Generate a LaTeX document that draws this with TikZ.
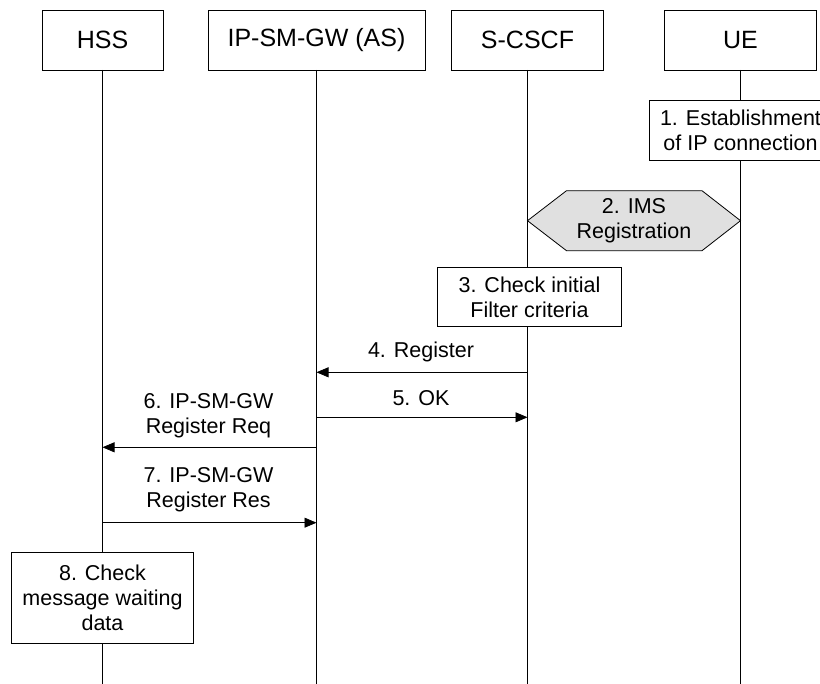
\documentclass[tikz,border=0pt]{standalone}
\usepackage{fontspec}
\setmainfont{Liberation Sans}
\usetikzlibrary{arrows.meta}
\definecolor{hexfill}{RGB}{224,224,224}
\begin{document}
\begin{tikzpicture}[x=1pt,y=-1pt,
  every node/.style={inner sep=0pt, outer sep=0pt},
  hdr/.style={draw, line width=0.8pt, fill=white, minimum height=60pt, font=\fontsize{25}{28}\selectfont},
  actbox/.style={draw, line width=0.8pt, fill=white, align=center, font=\fontsize{21.5}{25}\selectfont},
  lbl/.style={align=center, font=\fontsize{21.5}{25}\selectfont},
  life/.style={line width=0.8pt},
  msg/.style={line width=0.8pt, -{Triangle[length=12pt,width=10pt]}},
]
\useasboundingbox (0,0) rectangle (820,684);

% headers
\node[hdr, minimum width=121pt] (hss)   at (102.5,40) {HSS};
\node[hdr, minimum width=217pt] (ipsm)  at (316.5,40) {IP-SM-GW (AS)};
\node[hdr, minimum width=152pt] (scscf) at (527.5,40) {S-CSCF};
\node[hdr, minimum width=152pt] (ue)    at (740.5,40) {UE};

% lifelines
\coordinate (hssE)   at (hss.south   |- 0,684);
\coordinate (ipsmE)  at (ipsm.south  |- 0,684);
\coordinate (scscfE) at (scscf.south |- 0,684);
\coordinate (ueE)    at (ue.south    |- 0,684);
\draw[life] (hss.south) -- (hssE);
\draw[life] (ipsm.south) -- (ipsmE);
\draw[life] (scscf.south) -- (scscfE);
\draw[life] (ue.south) -- (ueE);

% 1
\node[actbox, minimum width=182pt, minimum height=60.5pt] (est) at (740.5,130.4) {1. Establishment\\of IP connection};

% 2 hexagon
\coordinate (hexL) at (scscf.south |- 0,220.7);
\coordinate (hexR) at (ue.south |- 0,220.7);
\draw[line width=0.8pt, fill=hexfill] (hexL) -- ++(39,-30) -- (702,190.7) -- (hexR) -- (702,250.7) -- (566.5,250.7) -- cycle;
\node[lbl] (reg) at (634,220.7) {2. IMS\\Registration};

% 3
\node[actbox, minimum width=184pt, minimum height=59.5pt] (ifc) at (529.5,297) {3. Check initial\\Filter criteria};

% messages
\coordinate (m4s) at (scscf.south |- 0,372.3);
\coordinate (m4e) at (ipsm.south  |- 0,372.3);
\draw[msg] (m4s) -- (m4e);
\node[lbl] (l4) at (421,352) {4. Register};

\coordinate (m5s) at (ipsm.south  |- 0,417.3);
\coordinate (m5e) at (scscf.south |- 0,417.3);
\draw[msg] (m5s) -- (m5e);
\node[lbl] (l5) at (421,398) {5. OK};

\coordinate (m6s) at (ipsm.south |- 0,447.3);
\coordinate (m6e) at (hss.south  |- 0,447.3);
\draw[msg] (m6s) -- (m6e);
\node[lbl] (l6) at (208.5,416) {6. IP-SM-GW\\Register Req};

\coordinate (m7s) at (hss.south  |- 0,522.7);
\coordinate (m7e) at (ipsm.south |- 0,522.7);
\draw[msg] (m7s) -- (m7e);
\node[lbl] (l7) at (208.5,490) {7. IP-SM-GW\\Register Res};

% 8
\node[actbox, minimum width=181.5pt, minimum height=90.5pt] (mwd) at (102.5,598) {8. Check\\message waiting\\data};
\end{tikzpicture}
\end{document}
